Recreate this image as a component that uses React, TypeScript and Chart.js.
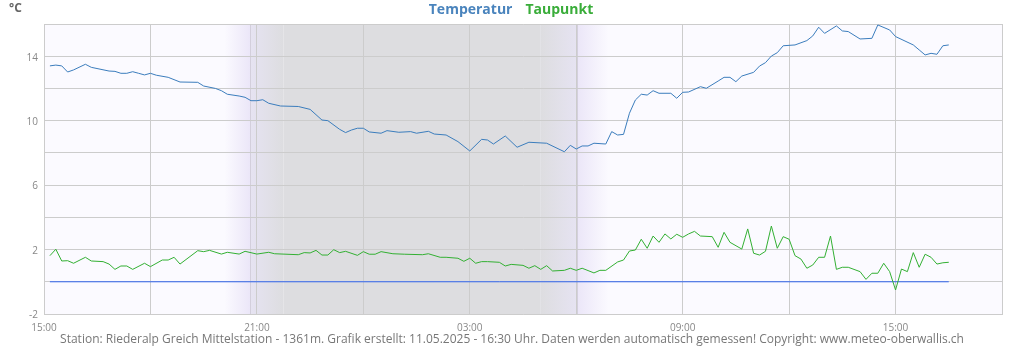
import React, { useEffect, useRef } from "react";
import { Chart, registerables } from "chart.js";

Chart.register(...registerables);

// time axis: units of 10 minutes since 15:00 (day 1)
const X_MIN = 0;
const X_MAX = 162; // 18:00 next day
const TICK_LABELS = ["15:00", "21:00", "03:00", "09:00", "15:00"];

const tempTimes = [1, 2, 3, 4, 5, 7, 8, 11, 12, 13, 14, 15, 16, 17, 18, 19, 21, 23, 26, 27, 29, 30, 31, 33, 34, 35, 36, 37, 38, 40, 43, 45, 47, 48, 50, 51, 52, 53, 54, 55, 57, 58, 60, 62, 63, 65, 66, 68, 70, 72, 74, 75, 76, 78, 80, 82, 85, 88, 89, 90, 91, 92, 93, 95, 96, 97, 98, 99, 100, 101, 102, 103, 104, 106, 107, 108, 109, 111, 112, 114, 115, 116, 117, 118, 120, 121, 122, 123, 124, 125, 127, 129, 130, 131, 132, 134, 135, 136, 138, 140, 141, 143, 144, 147, 148, 149, 150, 151, 152, 153];
const tempValues = [13.4, 13.45, 13.4, 13.02, 13.15, 13.5, 13.31, 13.08, 13.06, 12.94, 12.94, 13.04, 12.94, 12.84, 12.94, 12.82, 12.69, 12.4, 12.38, 12.15, 12.0, 11.86, 11.64, 11.53, 11.45, 11.24, 11.24, 11.3, 11.08, 10.91, 10.88, 10.7, 10.04, 10.0, 9.46, 9.26, 9.42, 9.53, 9.53, 9.3, 9.22, 9.38, 9.28, 9.32, 9.22, 9.34, 9.17, 9.11, 8.7, 8.12, 8.84, 8.8, 8.55, 9.05, 8.35, 8.66, 8.6, 8.07, 8.47, 8.24, 8.43, 8.43, 8.6, 8.55, 9.32, 9.11, 9.15, 10.46, 11.28, 11.64, 11.59, 11.86, 11.7, 11.7, 11.39, 11.76, 11.78, 12.11, 12.01, 12.46, 12.69, 12.69, 12.42, 12.77, 13.0, 13.39, 13.6, 14.01, 14.22, 14.65, 14.7, 14.97, 15.26, 15.8, 15.42, 15.88, 15.57, 15.53, 15.07, 15.11, 15.94, 15.63, 15.22, 14.7, 14.39, 14.08, 14.18, 14.12, 14.65, 14.7];

const dewTimes = [1, 2, 3, 4, 5, 7, 8, 10, 11, 12, 13, 14, 15, 17, 18, 20, 21, 22, 23, 26, 27, 28, 30, 31, 33, 34, 36, 38, 39, 43, 44, 45, 46, 47, 48, 49, 50, 51, 53, 54, 55, 56, 57, 59, 61, 64, 65, 67, 68, 70, 71, 72, 73, 74, 75, 77, 78, 79, 81, 82, 83, 84, 85, 86, 88, 89, 90, 91, 93, 94, 95, 97, 98, 99, 100, 101, 102, 103, 104, 105, 106, 107, 108, 109, 110, 111, 113, 114, 115, 116, 118, 119, 120, 121, 122, 123, 124, 125, 126, 127, 128, 129, 130, 131, 132, 133, 134, 135, 136, 138, 139, 140, 141, 142, 143, 144, 145, 146, 147, 148, 149, 150, 151, 152, 153];
const dewValues = [1.62, 2.02, 1.29, 1.31, 1.15, 1.52, 1.29, 1.25, 1.1, 0.77, 0.98, 0.98, 0.77, 1.15, 0.94, 1.35, 1.35, 1.52, 1.1, 1.93, 1.87, 1.95, 1.72, 1.83, 1.72, 1.89, 1.72, 1.83, 1.74, 1.68, 1.81, 1.79, 1.95, 1.66, 1.66, 1.99, 1.81, 1.89, 1.64, 1.87, 1.71, 1.71, 1.87, 1.74, 1.71, 1.68, 1.74, 1.52, 1.52, 1.46, 1.27, 1.46, 1.15, 1.25, 1.25, 1.21, 0.98, 1.08, 1.02, 0.84, 1.0, 0.77, 1.0, 0.67, 0.71, 0.84, 0.71, 0.84, 0.55, 0.71, 0.71, 1.23, 1.35, 1.91, 1.97, 2.64, 2.08, 2.84, 2.45, 2.97, 2.66, 2.95, 2.76, 2.97, 3.13, 2.84, 2.8, 2.14, 3.07, 2.45, 2.03, 3.28, 1.77, 1.66, 1.89, 3.46, 2.08, 2.8, 2.64, 1.62, 1.41, 0.84, 1.04, 1.52, 1.52, 2.84, 0.77, 0.9, 0.9, 0.63, 0.15, 0.53, 0.53, 1.15, 0.63, -0.51, 0.79, 0.63, 1.81, 0.9, 1.71, 1.52, 1.1, 1.18, 1.21];

const frostTimes = [1, 153];
const frostValues = [0, 0];

// night shading (10-min units since 15:00)
const twilightEveningStart = 30.5;
const sunset = 34.9;
const nightStart = 40.5;
const nightEnd = 84;
const sunrise = 90.2;
const twilightMorningEnd = 95.5;

const TITLE_UNIT = "°C";
const LEGEND = [
  { text: "Temperatur", color: "#4a84bd" },
  { text: "Taupunkt", color: "#3aad3a" },
];
const FOOTER =
  "Station: Riederalp Greich Mittelstation - 1361m. Grafik erstellt: 11.05.2025 - 16:30 Uhr. Daten werden automatisch gemessen! Copyright: www.meteo-oberwallis.ch";

const FONT = "'Open Sans', 'DejaVu Sans', sans-serif";
const PLOT_BG = "#fbfaff";
const NIGHT = "#dddde0";
const TWILIGHT = "#ebe6f8";

const toPts = (t: number[], v: number[]) => t.map((x, i) => ({ x, y: v[i] }));

const decorPlugin = {
  id: "decor",
  beforeDraw(chart: any) {
    const { ctx, chartArea: a, scales } = chart;
    const xs = scales.x;
    ctx.save();
    ctx.fillStyle = PLOT_BG;
    ctx.fillRect(a.left, a.top, a.right - a.left, a.bottom - a.top);
    const px = (v: number) => xs.getPixelForValue(v);
    const grad = (x0: number, x1: number, c0: string, c1: string) => {
      const g = ctx.createLinearGradient(x0, 0, x1, 0);
      g.addColorStop(0, c0);
      g.addColorStop(1, c1);
      ctx.fillStyle = g;
      ctx.fillRect(x0, a.top, x1 - x0, a.bottom - a.top);
    };
    grad(px(twilightEveningStart), px(sunset), PLOT_BG, TWILIGHT);
    grad(px(sunset), px(nightStart), "#e6e3f2", NIGHT);
    ctx.fillStyle = NIGHT;
    ctx.fillRect(px(nightStart), a.top, px(nightEnd) - px(nightStart), a.bottom - a.top);
    grad(px(nightEnd), px(sunrise), NIGHT, "#e6e3f2");
    grad(px(sunrise), px(twilightMorningEnd), TWILIGHT, PLOT_BG);
    ctx.strokeStyle = "#d3cfdc";
    ctx.lineWidth = 1;
    for (const t of [sunset, sunrise]) {
      const x = Math.round(px(t)) + 0.5;
      ctx.beginPath();
      ctx.moveTo(x, a.top);
      ctx.lineTo(x, a.bottom);
      ctx.stroke();
    }
    ctx.restore();
  },
  afterDraw(chart: any) {
    const { ctx } = chart;
    ctx.save();
    ctx.textBaseline = "middle";
    ctx.fillStyle = "#666";
    ctx.font = `bold 12px ${FONT}`;
    ctx.textAlign = "left";
    ctx.fillText(TITLE_UNIT, 9, 9);

    ctx.font = `bold 14px ${FONT}`;
    const gap = 13;
    const widths = LEGEND.map((l) => ctx.measureText(l.text).width);
    const total = widths.reduce((s, w) => s + w, 0) + gap * (LEGEND.length - 1);
    let x = 511 - total / 2;
    LEGEND.forEach((l, i) => {
      ctx.fillStyle = l.color;
      ctx.fillText(l.text, x, 10);
      x += widths[i] + gap;
    });

    ctx.font = `12px ${FONT}`;
    ctx.fillStyle = "#777";
    ctx.textAlign = "center";
    ctx.fillText(FOOTER, 512, 340);
    ctx.restore();
  },
};

export default function App() {
  const ref = useRef<HTMLCanvasElement | null>(null);
  useEffect(() => {
    document.body.style.margin = "0";
    const canvas = ref.current!;
    const chart = new Chart(canvas, {
      type: "line",
      data: {
        datasets: [
          {
            label: "Temperatur",
            data: toPts(tempTimes, tempValues),
            borderColor: "#3b7dbd",
            borderWidth: 1,
            pointRadius: 0,
            tension: 0,
          },
          {
            label: "Taupunkt",
            data: toPts(dewTimes, dewValues),
            borderColor: "#33b033",
            borderWidth: 1,
            pointRadius: 0,
            tension: 0,
          },
          {
            label: "0°",
            data: toPts(frostTimes, frostValues),
            borderColor: "#3366ee",
            borderWidth: 1,
            pointRadius: 0,
            tension: 0,
          },
        ],
      },
      options: {
        animation: false,
        responsive: false,
        events: [],
        layout: { padding: { left: 0, right: 22, top: 24, bottom: 0 } },
        plugins: { legend: { display: false }, tooltip: { enabled: false } },
        scales: {
          x: {
            type: "linear",
            min: X_MIN,
            max: X_MAX,
            afterFit: (s: any) => {
              s.height = 36;
            },
            grid: { color: "#cccccc", drawTicks: false },
            border: { color: "#cccccc" },
            ticks: {
              stepSize: 18,
              padding: 8,
              maxRotation: 0,
              autoSkip: false,
              color: "#888",
              font: { family: FONT, size: 10 },
              callback: (v: any) => {
                const n = Number(v);
                return n % 36 === 0 ? TICK_LABELS[n / 36] : "";
              },
            },
          },
          y: {
            min: -2,
            max: 16,
            afterFit: (s: any) => {
              s.width = 44;
            },
            grid: { color: "#cccccc", drawTicks: false },
            border: { color: "#cccccc" },
            ticks: {
              stepSize: 2,
              padding: 6,
              labelOffset: 1.5,
              color: "#888",
              font: { family: FONT, size: 10 },
              callback: (v: any) => {
                const n = Number(v);
                return (n + 2) % 4 === 0 ? String(n) : "";
              },
            },
          },
        },
      },
      plugins: [decorPlugin],
    });
    return () => chart.destroy();
  }, []);
  return <canvas ref={ref} width={1024} height={350} style={{ display: "block" }} />;
}
